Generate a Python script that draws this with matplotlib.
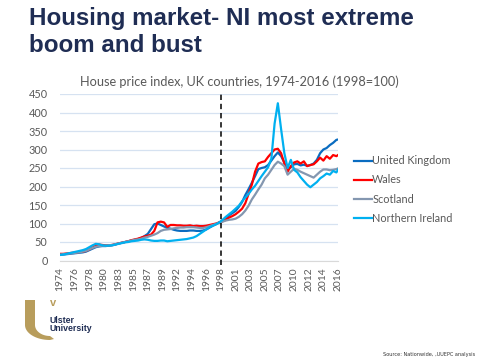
import numpy as np
import matplotlib
matplotlib.use("Agg")
import matplotlib.pyplot as plt
from matplotlib.patches import Polygon
from matplotlib.transforms import IdentityTransform

# half-yearly readings, 1974 .. 2016 (last point 2016 Q4)
years = list(np.arange(1974.0, 2016.75, 0.5)) + [2016.75]

uk = [15, 16, 17, 18, 19, 20, 21, 22, 24, 28,
      32, 36, 38, 39, 39, 40, 41, 43, 46, 48,
      50, 52, 54, 56, 58, 61, 66, 72, 85, 98,
      100, 96, 92, 88, 86, 83, 81, 80, 80, 80,
      81, 81, 80, 80, 81, 84, 89, 94, 98, 103,
      107, 113, 122, 128, 134, 145, 158, 177, 193, 210,
      228, 247, 250, 252, 258, 270, 282, 292, 282, 265,
      248, 252, 260, 261, 257, 259, 256, 258, 262, 272,
      290, 300, 304, 312, 318, 326, 327]

wales = [18, 18, 19, 20, 21, 22, 23, 24, 26, 30,
         35, 40, 43, 42, 41, 41, 42, 44, 46, 48,
         50, 52, 55, 57, 59, 62, 65, 67, 70, 80,
         103, 105, 103, 91, 96, 96, 95, 95, 94, 94,
         95, 93, 94, 93, 93, 94, 96, 98, 100, 103,
         106, 110, 116, 120, 125, 132, 140, 155, 180, 205,
         240, 262, 266, 268, 280, 290, 300, 302, 290, 262,
         240, 255, 265, 268, 262, 268, 255, 258, 260, 268,
         278, 270, 282, 275, 285, 282, 285]

scotland = [16, 17, 18, 19, 20, 21, 22, 24, 26, 30,
            34, 37, 39, 40, 40, 41, 42, 44, 46, 48,
            50, 52, 54, 56, 57, 59, 62, 64, 67, 70,
            74, 80, 83, 84, 85, 87, 88, 89, 89, 90,
            90, 90, 89, 88, 88, 90, 93, 96, 99, 102,
            105, 108, 110, 111, 113, 118, 125, 135, 148, 165,
            178, 192, 205, 222, 232, 245, 258, 267, 262, 255,
            232, 240, 248, 245, 240, 236, 232, 228, 224, 232,
            240, 246, 246, 244, 245, 247, 249]

ni = [15, 16, 18, 20, 22, 24, 26, 28, 31, 36,
      41, 45, 44, 41, 40, 40, 41, 43, 45, 47,
      49, 50, 52, 53, 54, 56, 57, 56, 54, 53,
      53, 54, 54, 52, 53, 54, 55, 56, 57, 58,
      60, 62, 66, 72, 78, 84, 90, 94, 98, 103,
      110, 118, 125, 132, 140, 148, 160, 170, 180, 192,
      202, 215, 228, 240, 252, 275, 370, 425, 355, 290,
      250, 272, 245, 238, 225, 215, 205, 198, 205, 212,
      222, 228, 235, 232, 242, 238, 245]

series = [("United Kingdom", uk, "#0a6cc0"),
          ("Wales", wales, "#ff0000"),
          ("Scotland", scotland, "#8497b0"),
          ("Northern Ireland", ni, "#00b0f0")]

# category labels every 9 quarters (1974Q1 .. 2016Q4)
tick_labels = ["1974", "1976", "1978", "1980", "1983", "1985", "1987",
               "1989", "1992", "1994", "1996", "1998", "2001", "2003",
               "2005", "2007", "2010", "2012", "2014", "2016"]

grey = "#595959"
navy = "#1f2d54"
gold = "#b89d5c"

fig = plt.figure(figsize=(4.8, 3.6), dpi=100)
fig.patch.set_facecolor("white")

W, H = 480, 360
ax = fig.add_axes([60 / W, 1 - 260.5 / H, (338 - 60) / W, (260.5 - 94) / H])

qpos = [(y - 1974) * 4 for y in years]
for name, vals, col in series:
    ax.plot(qpos, vals, color=col, lw=1.6, label=name, solid_joinstyle="round")

ax.axvline(99, ymin=-0.03, ymax=1.0, color="black", lw=1.1,
           ls=(0, (3.5, 2.5)), clip_on=False, zorder=5)

ax.set_xlim(0, 171)
ax.set_ylim(0, 450)
ax.set_yticks(range(0, 451, 50))
ax.set_xticks(range(0, 172, 9))
ax.set_xticklabels(tick_labels, rotation=90)
ax.tick_params(axis="both", length=0, colors=grey)
ax.tick_params(axis="y", pad=9, labelsize=7.8)
ax.tick_params(axis="x", pad=5, labelsize=7.4)
for lab in ax.get_xticklabels() + ax.get_yticklabels():
    lab.set_fontfamily("Lato")

for s in ["top", "right", "left"]:
    ax.spines[s].set_visible(False)
ax.spines["bottom"].set_color("#d9d9d9")
ax.grid(axis="y", color="#d6e2f1", lw=0.9)
ax.set_axisbelow(True)

leg = ax.legend(loc="center left", bbox_to_anchor=(349 / W, 1 - 189.5 / H),
                bbox_transform=fig.transFigure, frameon=False,
                handlelength=1.6, handletextpad=0.05, borderpad=0,
                labelspacing=0.75, prop={"family": "Lato", "size": 7.8})
for t in leg.get_texts():
    t.set_color(grey)

# titles
fig.text(29 / W, 1 - 25 / H, "Housing market- NI most extreme",
         fontsize=17.4, weight="bold", color=navy, family="Liberation Sans",
         va="baseline")
fig.text(29 / W, 1 - 51.7 / H, "boom and bust",
         fontsize=17.4, weight="bold", color=navy, family="Liberation Sans",
         va="baseline")
fig.text(239.5 / W, 1 - 86 / H,
         "House price index, UK countries, 1974-2016 (1998=100)",
         fontsize=9.2, color=grey, family="Lato", ha="center", va="baseline")

# Ulster University logo
t_out = np.linspace(np.pi, np.pi / 2, 30)
t_in = np.linspace(np.pi / 2, np.pi, 30)
outer = [(50 + 25 * np.cos(t), 325 + 15 * np.sin(t)) for t in t_out]
inner = [(50 + 15 * np.cos(t), 325 + 11 * np.sin(t)) for t in t_in]
pts = [(25, 300)] + outer + [(54, 339)] + inner + [(35, 300)]
pts = [(x, H - y) for x, y in pts]
fig.add_artist(Polygon(pts, closed=True, facecolor=gold, edgecolor="none",
                       transform=IdentityTransform()))
fig.text(53 / W, 1 - 303 / H, "v", fontsize=8, weight="bold", color=gold,
         ha="center", va="center", family="Liberation Sans")
fig.text(49 / W, 1 - 323 / H, "Ulster", fontsize=6.3, weight="bold",
         color=navy, family="Liberation Sans", va="baseline")
fig.text(49 / W, 1 - 331 / H, "University", fontsize=6.3, weight="bold",
         color=navy, family="Liberation Sans", va="baseline")

fig.text(475 / W, 1 - 356 / H, "Source: Nationwide, ,UUEPC analysis",
         fontsize=3.6, color="#333333", ha="right", va="baseline")

fig.savefig("out.png", dpi=100)
